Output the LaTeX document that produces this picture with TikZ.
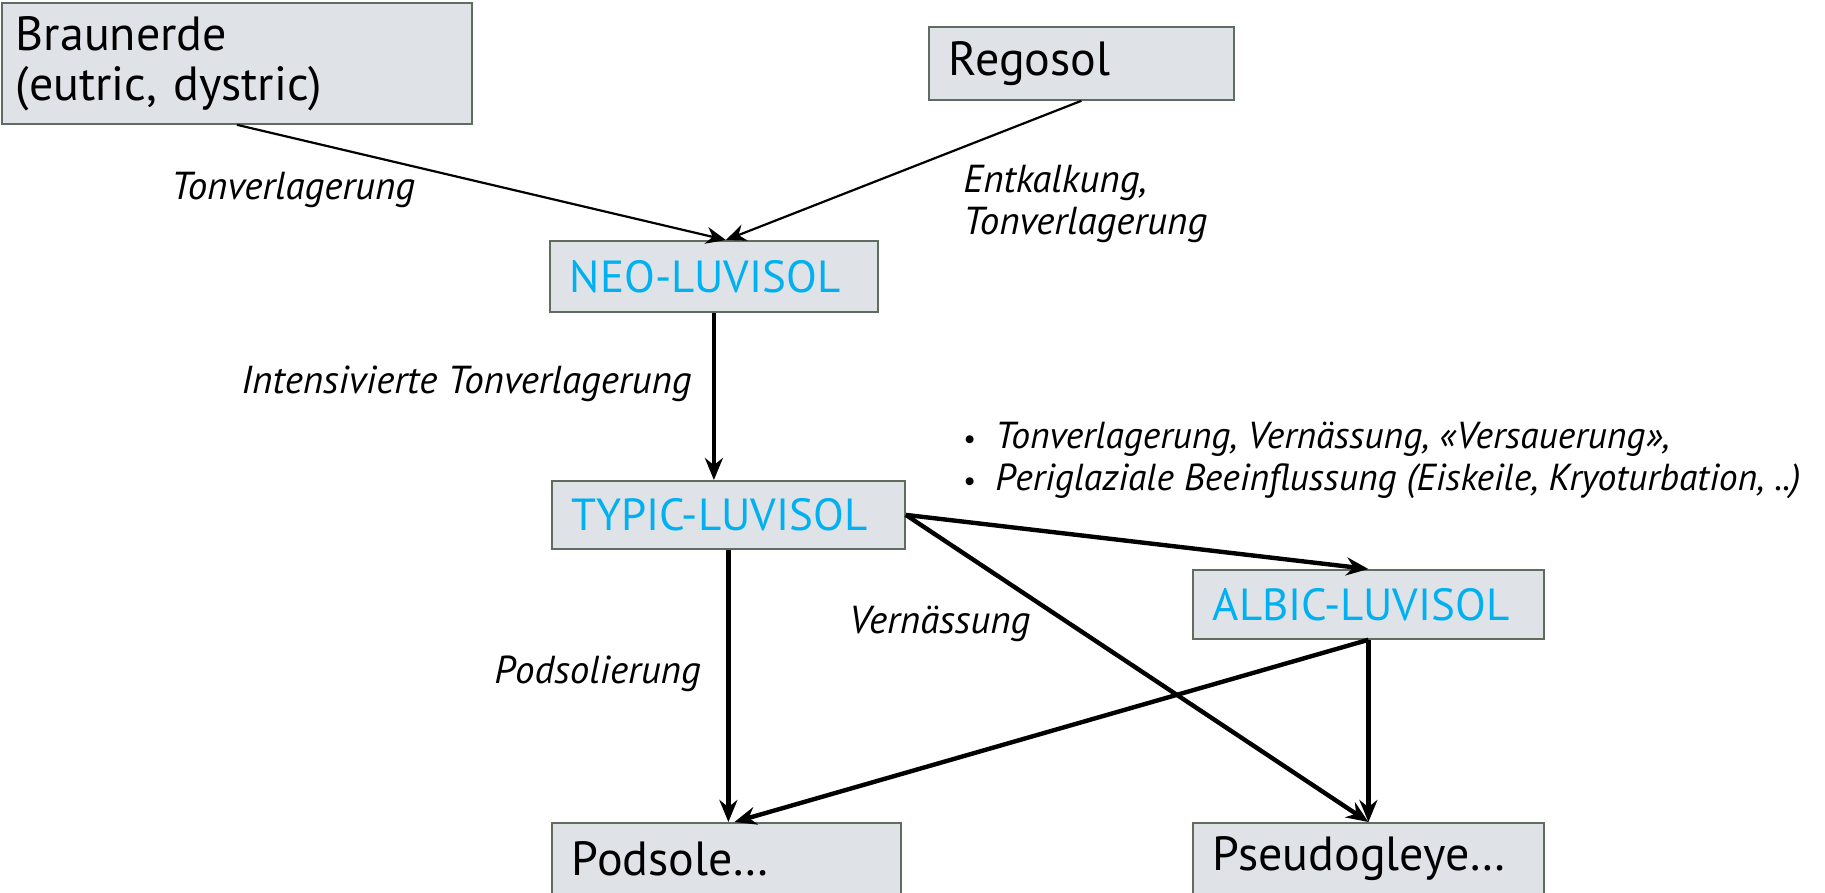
\documentclass[tikz,border=0pt]{standalone}
\usepackage{fontspec}
\setmainfont{PT Sans}
\usepackage{tikz}
\usetikzlibrary{arrows.meta, calc}
\definecolor{boxfill}{RGB}{223,227,232}
\definecolor{boxedge}{RGB}{96,108,96}
\definecolor{luviblue}{RGB}{0,176,240}

\tikzset{
  soil/.style={draw=boxedge, fill=boxfill, line width=0.9pt, rectangle, anchor=north west,
    inner xsep=10pt, inner ysep=0pt, align=left, font=\fontsize{24}{25}\selectfont},
  luvi/.style={soil, text=luviblue, font=\fontsize{22.5}{25}\selectfont},
  proc/.style={anchor=west, inner sep=0pt, align=left, font=\fontsize{19.5}{21}\selectfont\itshape},
  flow/.style={-{Stealth[length=11pt,width=9pt]}, line width=2.2pt},
  thinflow/.style={-{Stealth[length=10pt,width=8.5pt]}, line width=1.1pt},
}
\newcommand{\punkt}{\makebox[16pt][l]{\upshape\scalebox{0.75}{\textbullet}}}

\begin{document}
\begin{tikzpicture}[x=0.5pt, y=-0.5pt]
    \useasboundingbox (0,0) rectangle (1825,893);
    % Ausgangsboeden
    \node[soil, inner xsep=7pt, text width=221pt, minimum height=60.5pt] (braun) at (1,2) {Braunerde\\(eutric, dystric)};
    \node[soil, text width=132.5pt, minimum height=36.5pt] (rego) at (928,26) {Regosol};
    % Luvisole
    \node[luvi, text width=144pt, minimum height=35.5pt] (neo) at (549,240) {NEO-LUVISOL};
    \node[luvi, text width=156.5pt, minimum height=34pt] (typic) at (551,480) {TYPIC-LUVISOL};
    \node[luvi, text width=155.5pt, minimum height=34.5pt] (albic) at (1192,569) {ALBIC-LUVISOL};
    % Folgeboeden
    \node[soil, text width=154.5pt, minimum height=36pt] (pods) at (551,822) {Podsole…};
    \node[soil, text width=155.5pt, minimum height=36pt] (pseudo) at (1192,822) {Pseudogleye…};

    % Prozesse
    \node[proc] (tonv) at (171,190) {Tonverlagerung};
    \node[proc] (entk) at (963,204) {Entkalkung,\\Tonverlagerung};
    \node[proc] (inten) at (241,384) {Intensivierte Tonverlagerung};
    \node[proc, font=\fontsize{18.8}{21}\selectfont\itshape] (peri) at (963,460) {\punkt Tonverlagerung, Vernässung, «Versauerung»,\\
      \punkt Periglaziale Beeinflussung (Eiskeile, Kryoturbation, ..)};
    \node[proc] (vern) at (849,624) {Vernässung};
    \node[proc] (podsl) at (494,674) {Podsolierung};

    % Pfeile
    \draw[thinflow] (braun.south) -- ($(neo.north)+(12,0)$);
    \draw[thinflow] (rego.south) -- ($(neo.north)+(12,0)$);
    \draw[flow] (neo.south) -- (neo.south |- typic.north);
    \draw[flow] (typic.south) -- (typic.south |- pods.north);
    \draw[flow] (typic.east) -- (albic.north);
    \draw[flow] (typic.east) -- (pseudo.north);
    \draw[flow] (albic.south) -- ($(pods.north)+(8,0)$);
    \draw[flow] (albic.south) -- (pseudo.north);
\end{tikzpicture}
\end{document}
